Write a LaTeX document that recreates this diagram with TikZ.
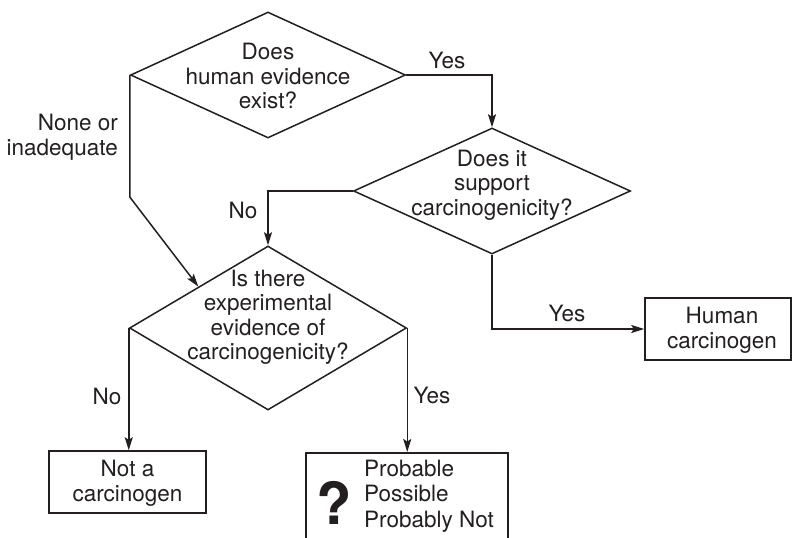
\documentclass[tikz,border=0pt]{standalone}
\usepackage{fontspec}
\setmainfont{TeX Gyre Heros}
\usetikzlibrary{shapes.geometric,arrows.meta}
\definecolor{ink}{HTML}{231F20}
\begin{document}
\begin{tikzpicture}[x=1pt,y=-1pt,
  dia/.style={draw=ink, diamond, line width=1.5pt, inner sep=0pt},
  box/.style={draw=ink, rectangle, line width=1.5pt, inner sep=0pt},
  txt/.style={align=center, inner sep=0pt, text=ink, font=\fontsize{22.5}{24.5}\selectfont},
  lbl/.style={inner sep=0pt, text=ink, font=\fontsize{22.5}{24.5}\selectfont},
  flow/.style={draw=ink, line width=1.5pt, -{Stealth[length=13pt,width=8pt,inset=2.5pt]}}]
\useasboundingbox (0,0) rectangle (793,538);
\clip (0,0) rectangle (793,538);

% decision diamonds
\node[dia, minimum width=275pt, minimum height=126pt] (d1) at (268,75) {};
\node[txt] (t1) at (268,76) {Does\\human evidence\\exist?};

\node[dia, minimum width=277pt, minimum height=126pt] (d2) at (492,191) {};
\node[txt] (t2) at (492,185) {Does it\\support\\carcinogenicity?};

\node[dia, minimum width=277pt, minimum height=164pt] (d3) at (268,328) {};
\node[txt] (t3) at (268,317) {Is there\\experimental\\evidence of\\carcinogenicity?};

% outcome boxes
\node[box, minimum width=146pt, minimum height=62pt] (hc) at (718,329) {};
\node[txt] (thc) at (722,330) {Human\\carcinogen};

\node[box, minimum width=157pt, minimum height=62pt] (nc) at (127.5,482) {};
\node[txt] (tnc) at (127.5,483) {Not a\\carcinogen};

\node[box, minimum width=202pt, minimum height=130pt, anchor=north] (pb) at (407,452) {};
\node[inner sep=0pt, text=ink, font=\fontsize{58}{58}\bfseries\selectfont] (qm) at (334,503) {?};
\node[txt, align=left, anchor=west, font=\fontsize{22.5}{25.5}\selectfont] (tpb) at (364,496) {Probable\\Possible\\Probably Not};

% connectors
\draw[flow] (d1.east) -| (d2.north);
\draw[flow] (d2.west) -| (d3.north);
\draw[flow] (d1.west) -- ++(0,122) -- (d3.north west);
\draw[flow] (d2.south) |- (hc.west);
\draw[flow] (d3.west) -- (d3.west |- nc.north);
\draw[flow] (d3.east) -- (d3.east |- pb.north);

% branch labels
\node[lbl] (l1) at (447,60) {Yes};
\node[lbl, align=right, anchor=east] (l2) at (118,137) {None or\\inadequate};
\node[lbl] (l3) at (243,210) {No};
\node[lbl] (l4) at (567,313) {Yes};
\node[lbl] (l5) at (107,396) {No};
\node[lbl] (l6) at (432,395) {Yes};
\end{tikzpicture}
\end{document}
